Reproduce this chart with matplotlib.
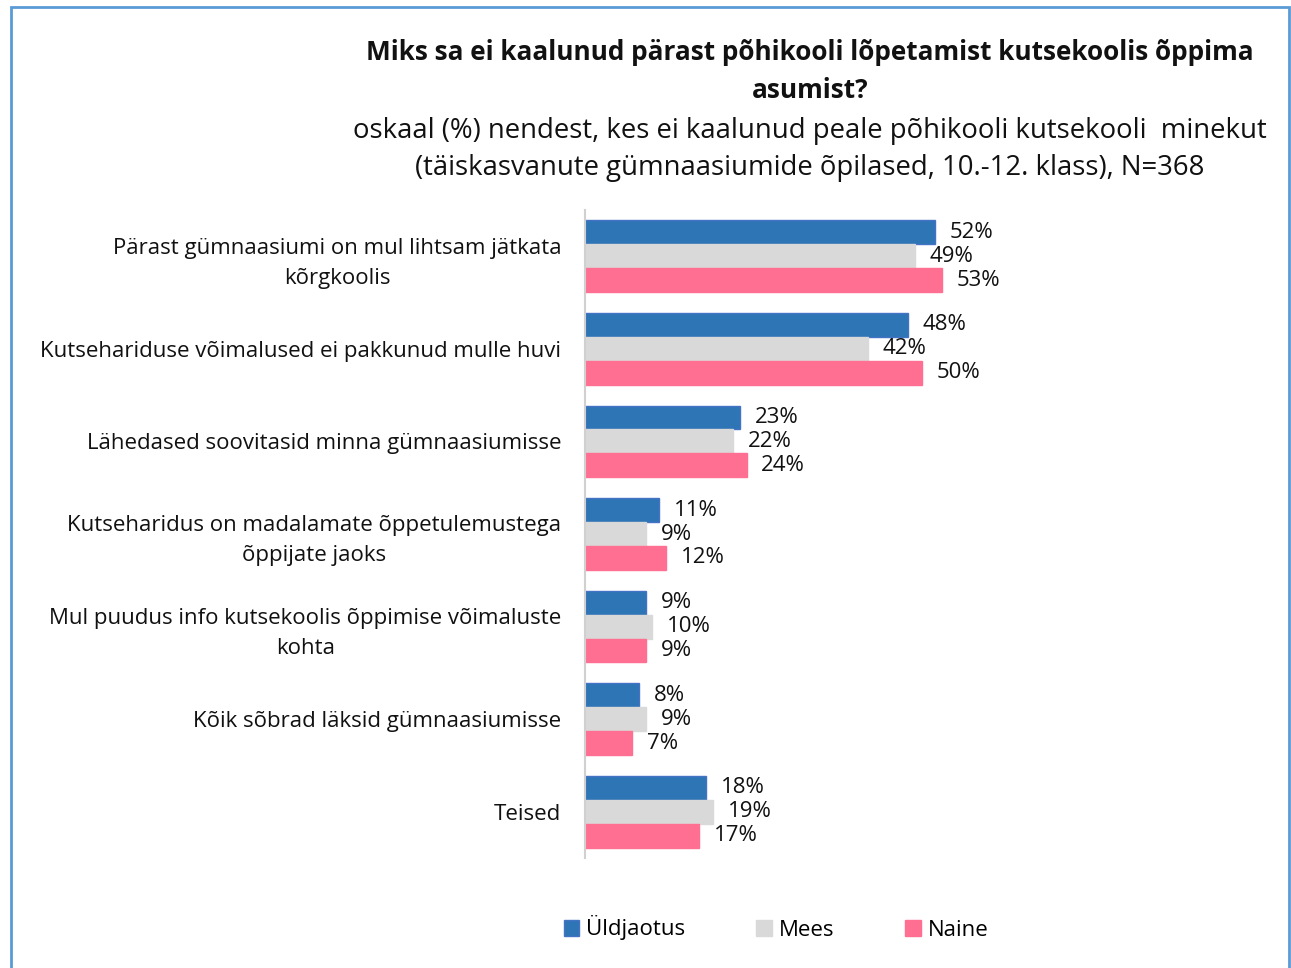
import numpy as np
import matplotlib.pyplot as plt
from matplotlib.patches import Rectangle

categories = [
    "Pärast gümnaasiumi on mul lihtsam jätkata\nkõrgkoolis",
    "Kutsehariduse võimalused ei pakkunud mulle huvi",
    "Lähedased soovitasid minna gümnaasiumisse",
    "Kutseharidus on madalamate õppetulemustega\nõppijate jaoks",
    "Mul puudus info kutsekoolis õppimise võimaluste\nkohta",
    "Kõik sõbrad läksid gümnaasiumisse",
    "Teised",
]
uldjaotus = [52, 48, 23, 11, 9, 8, 18]
mees = [49, 42, 22, 9, 10, 9, 19]
naine = [53, 50, 24, 12, 9, 7, 17]
series_names = ["Üldjaotus", "Mees", "Naine"]
colors = ["#2E75B6", "#D9D9D9", "#FF6F91"]

plt.rcParams['font.family'] = ['Open Sans', 'DejaVu Sans']

fig = plt.figure(figsize=(12.91, 9.68), dpi=100)
W, H = 1291, 968
# raam ümber graafiku
fig.patches.append(Rectangle((11 / W, -0.01), (1289 - 11) / W, (968 - 7) / H + 0.01,
                             transform=fig.transFigure, fill=False,
                             edgecolor="#5B9BD5", linewidth=2))

ax = fig.add_axes([585 / W, 1 - 858 / H, 673 / W, (858 - 210) / H])

y = np.arange(len(categories))
h = 0.258
for i, (vals, name, c) in enumerate(zip([uldjaotus, mees, naine], series_names, colors)):
    ec = "#4472C4" if i == 0 else c
    bars = ax.barh(y + (i - 1) * h, vals, height=h, color=c, edgecolor=ec,
                   linewidth=1, label=name)
    for b, v in zip(bars, vals):
        ax.text(b.get_width() + 2.2, b.get_y() + h / 2, f"{v}%", va="center",
                ha="left", fontsize=16, color="#111111")

ax.set_ylim(len(categories) - 0.5, -0.5)
ax.set_xlim(0, 100)
ax.set_xticks([])
ax.set_yticks(y)
ax.set_yticklabels(categories, fontsize=16, color="#111111", ha="right",
                   multialignment="center", linespacing=1.55)
ax.tick_params(axis="y", length=0, pad=17)
for s in ["top", "right", "bottom"]:
    ax.spines[s].set_visible(False)
ax.spines["left"].set_color("#D0D0D0")
ax.spines["left"].set_linewidth(1.5)

fig.text(810 / W, 1 - 52 / H, "Miks sa ei kaalunud pärast põhikooli lõpetamist kutsekoolis õppima",
         ha="center", va="center", fontsize=18.8, fontweight="bold", color="#111111")
fig.text(810 / W, 1 - 91 / H, "asumist?", ha="center", va="center",
         fontsize=18.8, fontweight="bold", color="#111111")
fig.text(810 / W, 1 - 131 / H,
         "oskaal (%) nendest, kes ei kaalunud peale põhikooli kutsekooli  minekut",
         ha="center", va="center", fontsize=19.8, color="#111111")
fig.text(810 / W, 1 - 168 / H,
         "(täiskasvanute gümnaasiumide õpilased, 10.-12. klass), N=368",
         ha="center", va="center", fontsize=19.8, color="#111111")

fig.legend(loc="center", bbox_to_anchor=(776 / W, 1 - 928 / H), ncol=3,
           frameon=False, fontsize=16, handlelength=0.7, handleheight=0.7,
           handletextpad=0.3, columnspacing=3.2)

fig.savefig("out.png", dpi=100)
